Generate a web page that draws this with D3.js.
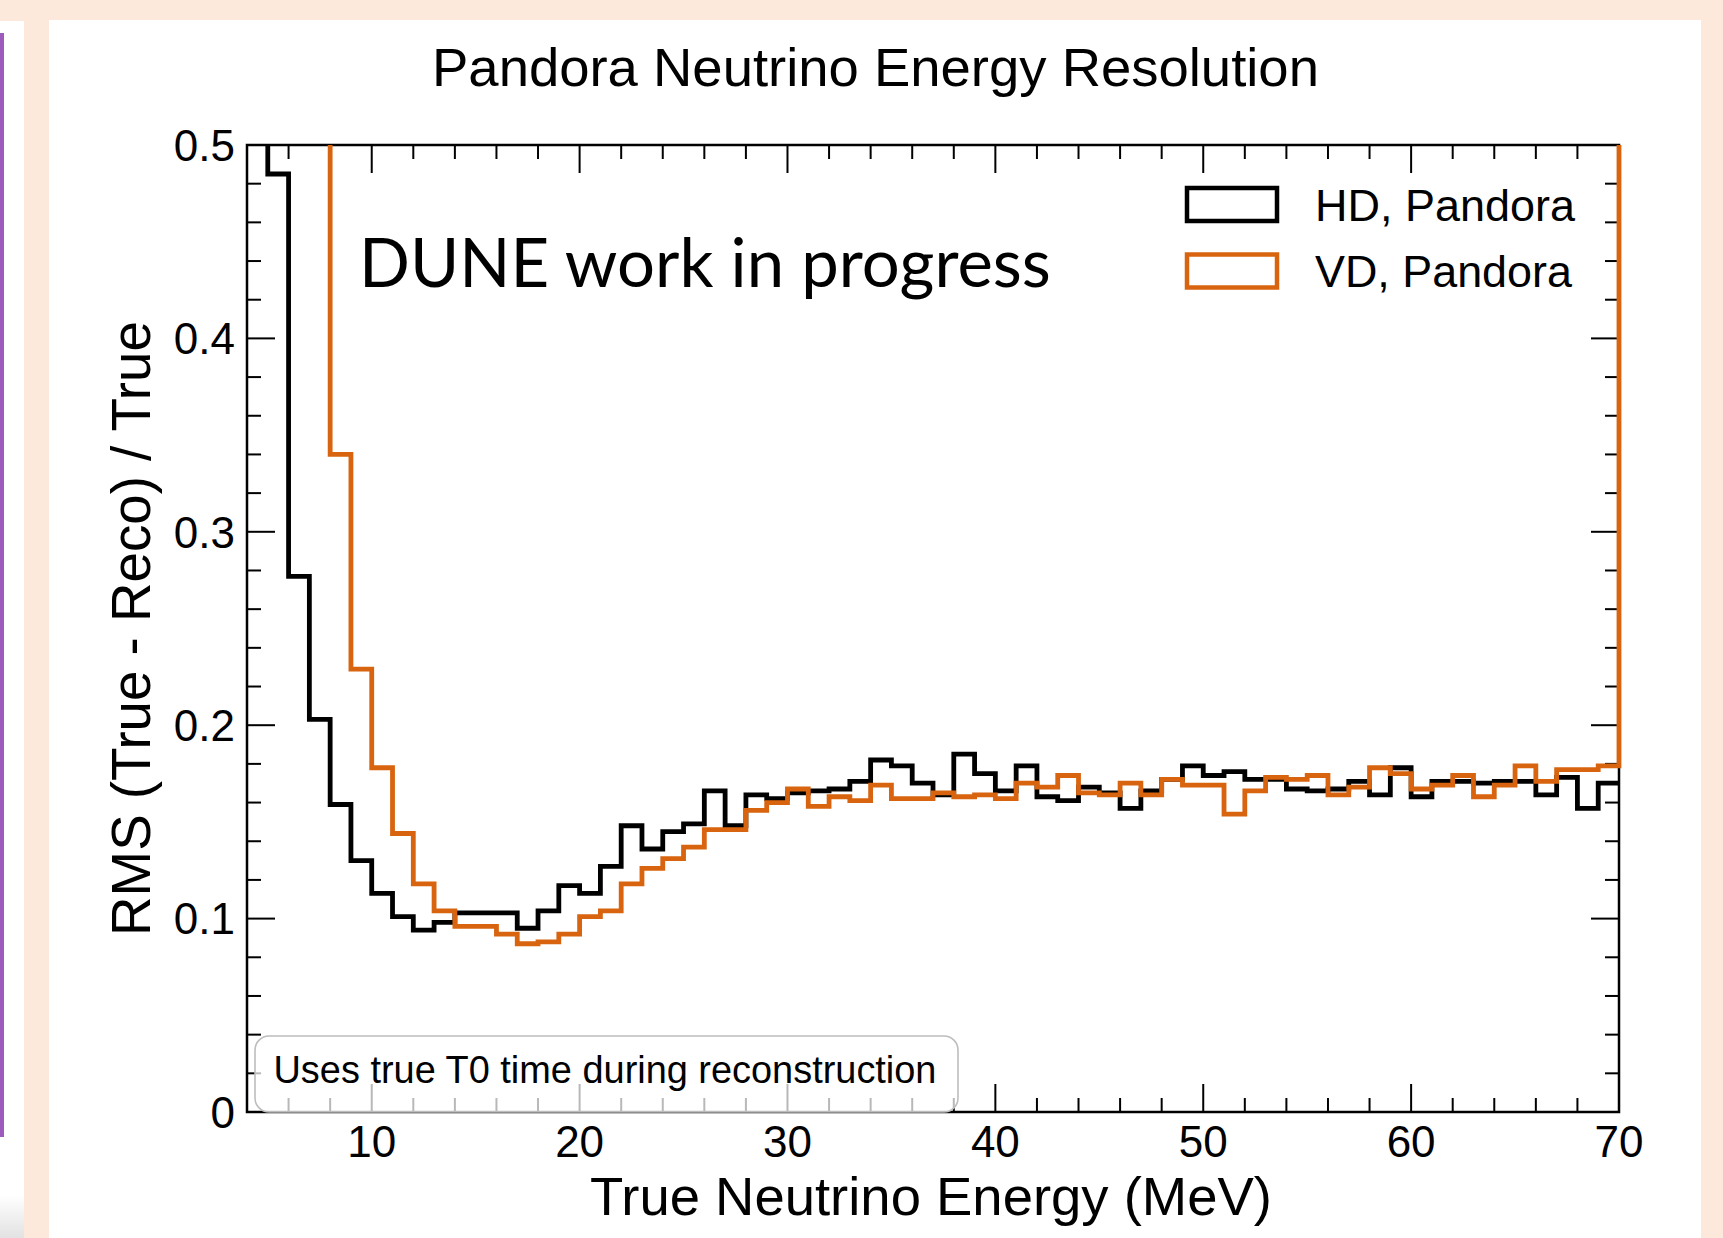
<!DOCTYPE html>
<html>
<head>
<meta charset="utf-8">
<script src="https://cdn.jsdelivr.net/npm/d3@7"></script>
<style>
  html, body { margin: 0; padding: 0; background: #fce9db; }
  svg { display: block; }
  text { font-family: "Liberation Sans", Arial, Helvetica, sans-serif; fill: #000; }
</style>
</head>
<body>
<svg id="chart" width="1723" height="1238"></svg>
<script>
// ---------------- data ----------------
const title = "Pandora Neutrino Energy Resolution";
const xTitle = "True Neutrino Energy (MeV)";
const yTitle = "RMS (True - Reco) / True";
const watermark = "DUNE work in progress";
const note = "Uses true T0 time during reconstruction";
const seriesNames = ["HD, Pandora", "VD, Pandora"];

// lower edges of the 1 MeV bins
const binLowEdges = [4,5,6,7,8,9,10,11,12,13,14,15,16,17,18,19,20,21,22,23,24,25,26,27,28,29,
  30,31,32,33,34,35,36,37,38,39,40,41,42,43,44,45,46,47,48,49,50,51,52,53,54,55,56,57,58,59,
  60,61,62,63,64,65,66,67,68,69];
const binWidth = 1;

const hdValues = [0.60,0.485,0.277,0.203,0.159,0.130,0.113,0.101,0.094,0.098,0.103,0.103,0.103,0.095,
  0.104,0.117,0.113,0.127,0.148,0.136,0.145,0.149,0.166,0.148,0.164,0.162,0.165,0.166,0.167,0.171,
  0.182,0.179,0.170,0.164,0.185,0.175,0.166,0.179,0.163,0.161,0.168,0.165,0.157,0.166,0.172,0.179,
  0.174,0.176,0.172,0.172,0.167,0.166,0.167,0.171,0.164,0.178,0.163,0.171,0.171,0.170,0.171,0.171,
  0.164,0.173,0.157,0.170];

const vdValues = [0.90,0.80,0.70,0.60,0.340,0.229,0.178,0.144,0.118,0.104,0.096,0.096,0.092,0.087,
  0.088,0.092,0.101,0.104,0.118,0.126,0.131,0.137,0.146,0.146,0.156,0.160,0.167,0.158,0.163,0.161,
  0.169,0.162,0.162,0.165,0.163,0.164,0.162,0.170,0.168,0.174,0.165,0.164,0.170,0.164,0.172,0.169,
  0.169,0.154,0.166,0.173,0.172,0.174,0.164,0.168,0.178,0.175,0.167,0.169,0.174,0.163,0.169,0.179,
  0.171,0.177,0.177,0.179];
const vdBeyondRange = 0.60;   // VD content just above 70 MeV (off scale)

const xDomain = [4, 70];
const yDomain = [0, 0.5];
const xMajorTicks = [10, 20, 30, 40, 50, 60, 70];
const xMinorTicks = [6, 8, 12, 14, 16, 18, 22, 24, 26, 28, 32, 34, 36, 38, 42, 44, 46, 48, 52, 54, 56, 58, 62, 64, 66, 68];
const yMajorTicks = [0, 0.1, 0.2, 0.3, 0.4, 0.5];
const yMinorTicks = [0.02,0.04,0.06,0.08,0.12,0.14,0.16,0.18,0.22,0.24,0.26,0.28,0.32,0.34,0.36,0.38,0.42,0.44,0.46,0.48];
const yTickLabels = ["0", "0.1", "0.2", "0.3", "0.4", "0.5"];
const xTickLabels = ["10", "20", "30", "40", "50", "60", "70"];

// ---------------- layout ----------------
const colors = { hd: "#000000", vd: "#d8640f" };
const P = { left: 247, right: 1619, top: 145, bottom: 1112 };

const svg = d3.select("#chart");

// page background pieces
svg.append("rect").attr("x", 0).attr("y", 0).attr("width", 1723).attr("height", 1238).attr("fill", "#fce9db");
svg.append("rect").attr("x", 0).attr("y", 21).attr("width", 24).attr("height", 1217).attr("fill", "#ffffff");
const grad = svg.append("defs").append("linearGradient").attr("id", "lg").attr("x1", 0).attr("y1", 0).attr("x2", 0).attr("y2", 1);
grad.append("stop").attr("offset", "0%").attr("stop-color", "#ffffff");
grad.append("stop").attr("offset", "100%").attr("stop-color", "#e2e2e2");
svg.append("rect").attr("x", 0).attr("y", 1195).attr("width", 24).attr("height", 43).attr("fill", "url(#lg)");
svg.append("rect").attr("x", 0).attr("y", 33).attr("width", 4).attr("height", 1104).attr("fill", "#9c5bbd");
svg.append("rect").attr("x", 49).attr("y", 20).attr("width", 1652).attr("height", 1218).attr("fill", "#ffffff");

const x = d3.scaleLinear().domain(xDomain).range([P.left, P.right]);
const y = d3.scaleLinear().domain(yDomain).range([P.bottom, P.top]);

function fit(sel, w) {
  const l = sel.node().getComputedTextLength();
  const fs = parseFloat(sel.attr("font-size"));
  sel.attr("font-size", (fs * w / l).toFixed(2));
  return sel;
}

// ticks (ROOT style: inside, mirrored on all sides)
const tk = svg.append("g").attr("stroke", "#000").attr("stroke-width", 2);
const majLen = 28, minLen = 14;
tk.selectAll(".xb").data(xMajorTicks.concat(xMinorTicks)).join("line").attr("class", "xb")
  .attr("x1", d => x(d)).attr("x2", d => x(d))
  .attr("y1", P.bottom).attr("y2", d => P.bottom - (xMajorTicks.includes(d) ? majLen : minLen));
tk.selectAll(".xt").data(xMajorTicks.concat(xMinorTicks)).join("line").attr("class", "xt")
  .attr("x1", d => x(d)).attr("x2", d => x(d))
  .attr("y1", P.top).attr("y2", d => P.top + (xMajorTicks.includes(d) ? majLen : minLen));
tk.selectAll(".yl").data(yMajorTicks.concat(yMinorTicks)).join("line").attr("class", "yl")
  .attr("y1", d => y(d)).attr("y2", d => y(d))
  .attr("x1", P.left).attr("x2", d => P.left + (yMajorTicks.includes(d) ? majLen : minLen));
tk.selectAll(".yr").data(yMajorTicks.concat(yMinorTicks)).join("line").attr("class", "yr")
  .attr("y1", d => y(d)).attr("y2", d => y(d))
  .attr("x1", P.right).attr("x2", d => P.right - (yMajorTicks.includes(d) ? majLen : minLen));

// frame
svg.append("rect").attr("x", P.left).attr("y", P.top).attr("width", P.right - P.left).attr("height", P.bottom - P.top)
  .attr("fill", "none").attr("stroke", "#000").attr("stroke-width", 2.5);

// tick labels
svg.selectAll(".ylab").data(yMajorTicks).join("text").attr("class", "ylab")
  .attr("x", P.left - 12).attr("y", d => y(d)).attr("dy", "0.36em")
  .attr("text-anchor", "end").attr("font-size", 44).text((d, i) => yTickLabels[i]);
svg.selectAll(".xlab").data(xMajorTicks).join("text").attr("class", "xlab")
  .attr("x", d => x(d)).attr("y", P.bottom + 45)
  .attr("text-anchor", "middle").attr("font-size", 44).text((d, i) => xTickLabels[i]);

// axis titles
fit(svg.append("text").attr("x", 931).attr("y", 1215).attr("text-anchor", "middle").attr("font-size", 54).text(xTitle), 682);
fit(svg.append("text").attr("transform", "translate(150,628.5) rotate(-90)").attr("text-anchor", "middle").attr("font-size", 54).text(yTitle), 615);
// title
fit(svg.append("text").attr("x", 875.5).attr("y", 86).attr("text-anchor", "middle").attr("font-size", 54).text(title), 887);

// histograms
svg.append("clipPath").attr("id", "plotclip").append("rect")
  .attr("x", P.left - 3).attr("y", P.top).attr("width", P.right - P.left + 6).attr("height", P.bottom - P.top);

function stepPoints(vals) {
  const pts = [];
  vals.forEach((v, i) => {
    pts.push([binLowEdges[i], v]);
    pts.push([binLowEdges[i] + binWidth, v]);
  });
  return pts;
}
const line = d3.line().x(d => x(d[0])).y(d => y(d[1]));
const hdPts = stepPoints(hdValues);
const vdPts = stepPoints(vdValues);
vdPts.push([binLowEdges[binLowEdges.length - 1] + binWidth, vdBeyondRange]);

const hg = svg.append("g").attr("clip-path", "url(#plotclip)");
hg.append("path").attr("d", line(hdPts)).attr("fill", "none").attr("stroke", colors.hd)
  .attr("stroke-width", 4.8).attr("stroke-linejoin", "miter");
hg.append("path").attr("d", line(vdPts)).attr("fill", "none").attr("stroke", colors.vd)
  .attr("stroke-width", 4.8).attr("stroke-linejoin", "miter");

// watermark
const wm = svg.append("text").attr("x", 359).attr("y", 287).attr("font-size", 62)
  .style("font-family", "Lato, 'Open Sans', sans-serif").text(watermark);
fit(wm, 692);

// legend
const legend = svg.append("g");
const legY = [204.5, 271];
[colors.hd, colors.vd].forEach((c, i) => {
  legend.append("rect").attr("x", 1187).attr("y", legY[i] - 16.5).attr("width", 90).attr("height", 33)
    .attr("fill", "#fff").attr("stroke", c).attr("stroke-width", 4.5);
  fit(legend.append("text").attr("x", 1315).attr("y", legY[i]).attr("dy", "0.36em")
    .attr("font-size", 45).text(seriesNames[i]), i === 0 ? 260 : 257);
});

// note box
svg.append("rect").attr("x", 255).attr("y", 1036).attr("width", 703).attr("height", 76)
  .attr("rx", 14).attr("ry", 14).attr("fill", "#ffffff").attr("fill-opacity", 0.72)
  .attr("stroke", "#bdbdbd").attr("stroke-width", 1.6);
fit(svg.append("text").attr("x", 273.5).attr("y", 1083).attr("font-size", 36).text(note), 663);
</script>
</body>
</html>
